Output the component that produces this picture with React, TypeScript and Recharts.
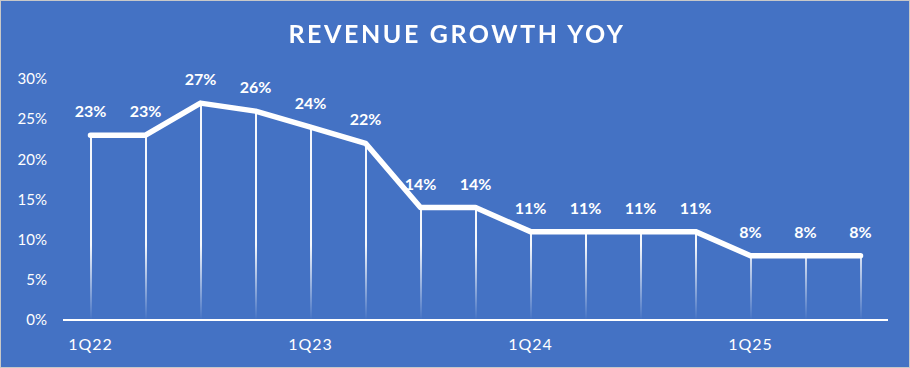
import React from 'react';
import { ComposedChart, Line, Bar, XAxis, YAxis, LabelList } from 'recharts';

const categories = ['1Q22', '2Q22', '3Q22', '4Q22', '1Q23', '2Q23', '3Q23', '4Q23', '1Q24', '2Q24', '3Q24', '4Q24', '1Q25', '2Q25', '3Q25'];
const growth = [23, 23, 27, 26, 24, 22, 14, 14, 11, 11, 11, 11, 8, 8, 8];
const yTicks = [0, 5, 10, 15, 20, 25, 30];
const title = 'REVENUE GROWTH YOY';

const data = categories.map((q, i) => ({ q, v: growth[i] }));

const FONT = 'Lato, "Open Sans", sans-serif';
const BG = '#4472C4';

export default function App() {
  return (
    <div style={{ position: 'fixed', left: 0, top: 0, width: 910, height: 368, background: BG, fontFamily: FONT }}>
      <style>{`body{margin:0}`}</style>
      <ComposedChart
        width={910}
        height={368}
        data={data}
        margin={{ top: 79, right: 22, bottom: 0, left: 0 }}
      >
        <defs>
          <linearGradient id="dropFade" gradientUnits="userSpaceOnUse" x1="0" y1="245" x2="0" y2="320">
            <stop offset="0" stopColor="#ffffff" stopOpacity={0.95} />
            <stop offset="1" stopColor="#ffffff" stopOpacity={0} />
          </linearGradient>
        </defs>
        <XAxis
          dataKey="q"
          interval={3}
          height={48}
          tickLine={false}
          tickMargin={13}
          axisLine={{ stroke: '#ffffff', strokeWidth: 2 }}
          tick={{ fill: '#ffffff', fontSize: 16, fontFamily: FONT, letterSpacing: 1 }}
        />
        <YAxis
          domain={[0, 30]}
          ticks={yTicks}
          width={63}
          axisLine={false}
          tickLine={false}
          tickMargin={10}
          tickFormatter={(v: number) => `${v}%`}
          tick={{ fill: '#ffffff', fontSize: 15, fontFamily: FONT }}
        />
        <Bar dataKey="v" barSize={2} fill="url(#dropFade)" isAnimationActive={false} />
        <Line
          type="linear"
          dataKey="v"
          stroke="#ffffff"
          strokeWidth={5.5}
          strokeLinecap="round"
          strokeLinejoin="round"
          dot={false}
          activeDot={false}
          isAnimationActive={false}
        >
          <LabelList
            dataKey="v"
            position="top"
            offset={18}
            formatter={(v: number) => `${v}%`}
            fill="#ffffff"
            fontSize={16}
            fontWeight="bold"
            fontFamily={FONT}
          />
        </Line>
      </ComposedChart>
      <div
        style={{
          position: 'absolute',
          left: 2,
          top: 18,
          width: 910,
          textAlign: 'center',
          color: '#ffffff',
          fontSize: 25,
          fontWeight: 'bold',
          lineHeight: 1.2,
          letterSpacing: 2.6,
          fontFamily: FONT,
        }}
      >
        {title}
      </div>
      <div style={{ position: 'absolute', left: 0, top: 0, width: 908, height: 366, border: '1px solid #c8c8c8', pointerEvents: 'none' }} />
    </div>
  );
}
